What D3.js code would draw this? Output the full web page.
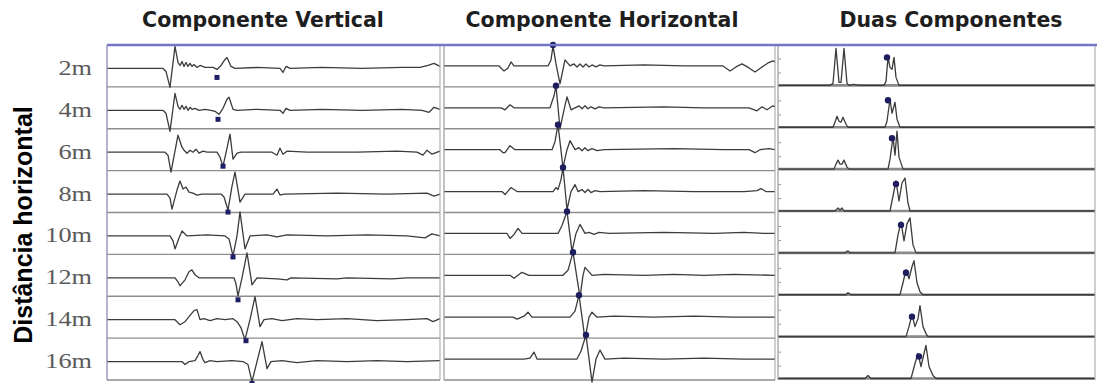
<!DOCTYPE html>
<html><head><meta charset="utf-8">
<script src="https://cdn.jsdelivr.net/npm/d3@7/dist/d3.min.js"></script>
<style>html,body{margin:0;padding:0;background:#fff;}svg{display:block;}</style>
</head><body>
<svg id="c" width="1097" height="383"></svg>
<script>
// ---------- DATA ----------
const distances = ["2m","4m","6m","8m","10m","12m","14m","16m"];
const panelTitles = ["Componente Vertical","Componente Horizontal","Duas Componentes"];
const yTitle = "Distância horizontal";

// Vertical component traces: [sample, amplitude]
const vertTraces = [
 [[0,0],[56,0],[59,-3],[63,-19],[68,22],[71,6],[73,3],[75,7],[77,2],[79,6],[81,2],[83,5],[85,2],[87,4],[90,1],[93,3],[98,1],[106,1],[110,-1],[114,3],[118,9],[120,11],[124,2],[128,0],[150,1],[173,0],[176,-4],[179,2],[183,0],[215,1],[255,0],[295,1],[313,1],[321,3],[327,5],[333,2]],
 [[0,0],[56,0],[59,-3],[63,-21],[68,17],[71,4],[73,1],[75,5],[77,1],[79,4],[81,0],[83,3],[85,1],[88,2],[92,0],[98,1],[104,0],[108,-1],[112,-4],[116,2],[120,11],[122,13],[126,1],[130,0],[150,1],[173,0],[176,-3],[179,2],[183,0],[215,1],[255,0],[295,1],[315,0],[322,-2],[327,3],[333,1]],
 [[0,0],[58,0],[61,-3],[64,-20],[71,17],[75,5],[77,2],[80,-1],[83,2],[86,0],[89,3],[92,-1],[96,1],[100,0],[110,0],[113,-5],[116,-14],[120,4],[123,18],[126,-7],[130,-1],[134,0],[165,0],[170,-3],[173,4],[176,-2],[180,1],[200,0],[250,0],[290,1],[310,0],[316,-3],[320,2],[325,-2],[333,1]],
 [[0,0],[60,0],[63,-4],[65,-15],[70,4],[73,13],[76,5],[79,7],[82,2],[86,1],[90,-1],[95,0],[114,0],[117,-3],[121,-16],[125,8],[128,22],[133,-8],[138,0],[166,0],[170,5],[173,-1],[177,0],[230,1],[280,0],[320,1],[327,-2],[333,0]],
 [[0,0],[63,0],[66,-5],[68,-13],[72,-2],[75,5],[80,0],[100,1],[118,0],[122,-3],[126,-20],[130,0],[133,24],[138,-13],[143,0],[160,1],[170,-1],[180,1],[220,0],[260,1],[300,0],[318,-2],[325,2],[333,0]],
 [[0,0],[68,0],[71,-4],[73,-8],[78,-2],[82,6],[85,8],[88,3],[92,0],[127,0],[129,-6],[131,-18],[135,0],[140,25],[145,-7],[150,0],[170,-1],[180,-2],[184,0],[230,-1],[240,0],[285,-1],[300,0],[333,0]],
 [[0,0],[68,0],[73,-5],[78,-2],[82,3],[87,9],[90,10],[93,0],[97,1],[103,-1],[110,1],[118,0],[126,1],[130,-2],[134,-8],[138,-20],[143,0],[148,23],[153,-7],[157,0],[165,1],[175,-1],[190,1],[210,0],[240,1],[270,-1],[300,0],[320,1],[326,-2],[333,1]],
 [[0,0],[75,0],[78,-3],[82,0],[88,1],[91,6],[93,10],[96,2],[98,-1],[103,1],[110,0],[125,1],[136,0],[141,-3],[145,-20],[150,0],[155,20],[160,-7],[164,0],[175,1],[190,-1],[210,1],[240,0],[270,1],[300,0],[333,1]]
];
const vertPicks = [[110,-9],[111,-9],[116,-14],[121,-18],[126,-21],[131,-22],[139,-21],[145,-22]];

// Horizontal component traces
const horizTraces = [
 [[0,0],[55,0],[60,-5],[64,-2],[67,4],[70,0],[104,0],[107,6],[109,20],[112,2],[116,-18],[121,6],[126,0],[130,2],[133,-1],[136,2],[139,-1],[142,2],[145,-1],[148,1],[152,-1],[156,1],[160,0],[200,1],[240,0],[279,0],[286,-5],[292,-1],[298,2],[305,-2],[311,-6],[318,-1],[324,3],[329,5],[331,4]],
 [[0,0],[57,0],[61,-2],[66,3],[70,0],[106,0],[110,12],[112,22],[116,-21],[120,-2],[123,11],[127,-2],[131,0],[135,2],[138,-1],[141,2],[144,-1],[147,1],[151,-1],[155,1],[160,0],[220,1],[260,0],[305,0],[313,-3],[318,1],[323,-2],[329,2],[331,1]],
 [[0,0],[56,0],[59,-3],[61,-3],[66,4],[71,0],[108,0],[111,8],[114,25],[119,-18],[123,0],[126,9],[131,0],[135,2],[138,-1],[141,2],[144,-1],[148,1],[153,-1],[160,0],[230,1],[280,0],[305,0],[311,-3],[316,0],[325,1],[331,0]],
 [[0,0],[58,0],[61,-3],[67,4],[73,0],[109,0],[112,4],[114,2],[117,12],[119,24],[123,-18],[127,0],[131,7],[134,0],[138,2],[141,-1],[144,2],[147,-1],[151,1],[156,0],[200,1],[250,0],[300,0],[313,1],[317,3],[322,0],[331,0]],
 [[0,0],[63,0],[66,-5],[70,-1],[74,5],[78,0],[114,0],[118,8],[123,22],[128,-18],[132,0],[136,9],[141,0],[145,1],[150,-1],[155,1],[165,0],[220,1],[270,0],[300,1],[320,0],[331,0]],
 [[0,0],[66,0],[70,-3],[78,3],[85,0],[119,0],[124,5],[129,23],[136,-22],[139,0],[141,8],[148,0],[160,1],[200,0],[230,1],[260,0],[290,1],[331,0]],
 [[0,0],[69,0],[73,-2],[80,1],[84,5],[88,0],[126,0],[131,6],[135,22],[141,-22],[145,0],[148,5],[153,0],[170,1],[210,0],[250,1],[290,0],[331,0]],
 [[0,0],[80,0],[86,1],[90,7],[93,0],[133,0],[137,8],[142,24],[148,-23],[152,0],[156,9],[161,0],[180,1],[220,0],[260,1],[300,0],[331,0]]
];
const horizPicks = [[109,21],[112,22],[114,25],[119,24],[123,22],[129,23],[135,22],[142,24]];

// Two-component envelope traces
const bothTraces = [
 [[0,0],[52,0],[55,2],[58,37],[61,3],[63,3],[66,37],[69,2],[71,0],[75,1],[82,0],[106,0],[108,4],[110,28],[112,18],[114,16],[116,28],[118,8],[121,0],[317,0]],
 [[0,0],[55,0],[57,5],[59,11],[61,6],[63,5],[65,10],[68,3],[70,0],[107,0],[109,6],[112,28],[114,14],[117,25],[119,8],[122,0],[317,0]],
 [[0,0],[56,0],[58,5],[60,9],[62,5],[64,5],[66,9],[69,2],[71,0],[110,0],[112,10],[115,32],[117,14],[119,38],[121,12],[125,0],[317,0]],
 [[0,0],[57,0],[60,3],[62,1],[64,3],[66,0],[112,0],[115,15],[118,30],[121,10],[124,28],[127,33],[130,8],[132,0],[317,0]],
 [[0,0],[67,0],[70,2],[72,0],[117,0],[120,18],[123,31],[126,12],[129,29],[132,35],[135,8],[138,0],[317,0]],
 [[0,0],[68,0],[70,2],[73,0],[122,0],[125,12],[128,25],[131,16],[134,28],[136,34],[139,12],[142,3],[145,0],[317,0]],
 [[0,0],[128,0],[131,10],[134,22],[137,10],[140,18],[142,31],[145,10],[148,3],[150,0],[317,0]],
 [[0,0],[87,0],[90,3],[93,0],[133,0],[137,15],[140,25],[143,12],[146,25],[148,33],[151,12],[155,3],[158,0],[317,0]]
];
const bothPicks = [[109,28],[110,27],[114,31],[118,27],[123,28],[128,22],[134,20],[141,22]];

// ---------- DRAW ----------
const svg = d3.select("#c");
const yTop = 45, yBottom = 380;
const row = d3.scaleBand().domain(distances).range([yTop, yBottom]);
const bw = row.bandwidth();

const panels = [
  {x0:107, x1:440, dom:[0,333], traces:vertTraces, picks:vertPicks, type:"wave", off:2.5, title:panelTitles[0], tx:263, pick:"square"},
  {x0:444, x1:775, dom:[0,331], traces:horizTraces, picks:horizPicks, type:"wave", off:0, title:panelTitles[1], tx:602, pick:"circle"},
  {x0:778, x1:1095, dom:[0,317], traces:bothTraces, picks:bothPicks, type:"env", off:0, title:panelTitles[2], tx:951, pick:"circle"}
];

const ampWave = d3.scaleLinear().domain([-21,21]).range([21,-21]);
const ampEnv = d3.scaleLinear().domain([0,40]).range([0,-40]);

panels.forEach(p => {
  const x = d3.scaleLinear().domain(p.dom).range([p.x0, p.x1]);
  const g = svg.append("g");
  svg.append("text").attr("x", p.tx).attr("y", 27).attr("text-anchor","middle")
    .attr("font-family","DejaVu Sans").attr("font-weight","bold").attr("font-size",20.5)
    .attr("fill","#1e1e1e").text(p.title);

  distances.forEach((d,i) => {
    const rTop = row(d);
    let base;
    if (p.type === "wave") {
      base = rTop + bw/2 + p.off;
      g.append("line").attr("x1",p.x0).attr("x2",p.x1)
        .attr("y1",rTop+bw).attr("y2",rTop+bw)
        .attr("stroke","#8e8e8e").attr("stroke-width",1.3);
    } else {
      base = rTop + bw - 1.5;
      g.append("line").attr("x1",p.x0).attr("x2",p.x1)
        .attr("y1",base).attr("y2",base)
        .attr("stroke","#8a8a8a").attr("stroke-width",2.6);
      g.append("line").attr("x1",p.x0).attr("x2",p.x0+3)
        .attr("y1",rTop+14).attr("y2",rTop+14).attr("stroke","#999").attr("stroke-width",1);
      g.append("line").attr("x1",p.x0).attr("x2",p.x0+3)
        .attr("y1",rTop+28).attr("y2",rTop+28).attr("stroke","#999").attr("stroke-width",1);
    }
    const amp = p.type === "wave" ? ampWave : ampEnv;
    const line = d3.line().x(v => x(v[0])).y(v => base + amp(v[1]));
    g.append("path").attr("d", line(p.traces[i]))
      .attr("fill","none").attr("stroke","#3c3c3c").attr("stroke-width",1.3)
      .attr("stroke-linejoin","round");
    const pk = p.picks[i];
    const px = x(pk[0]), py = base + amp(pk[1]);
    if (p.pick === "square") {
      g.append("rect").attr("x",px-2.5).attr("y",py-2.5).attr("width",5).attr("height",5)
        .attr("fill","#1e1e66");
    } else {
      g.append("circle").attr("cx",px).attr("cy",py).attr("r",3.2).attr("fill","#1e1e5e");
    }
  });
  g.append("line").attr("x1",p.x0).attr("x2",p.x0).attr("y1",yTop).attr("y2",yBottom)
    .attr("stroke", p.x0===107 ? "#8c8cb8" : "#a0a0a8").attr("stroke-width",1.3);
  g.append("line").attr("x1",p.x1).attr("x2",p.x1).attr("y1",yTop).attr("y2",yBottom)
    .attr("stroke","#a8a8b0").attr("stroke-width",1.1);
});

svg.append("line").attr("x1",107).attr("x2",1097).attr("y1",yTop).attr("y2",yTop)
  .attr("stroke","#7676c8").attr("stroke-width",2.5);

distances.forEach(d => {
  svg.append("text")
    .attr("transform", `translate(92,${row(d)+bw/2+9}) scale(1.25,1)`)
    .attr("text-anchor","end").attr("font-family","Liberation Serif")
    .attr("font-size",21).attr("fill","#5a5a5a").text(d);
});

svg.append("text").attr("transform","translate(32,225) rotate(-90)")
  .attr("text-anchor","middle").attr("font-family","Liberation Sans").attr("font-weight","bold")
  .attr("font-size",25).attr("fill","#000").text(yTitle);
</script>
</body></html>
